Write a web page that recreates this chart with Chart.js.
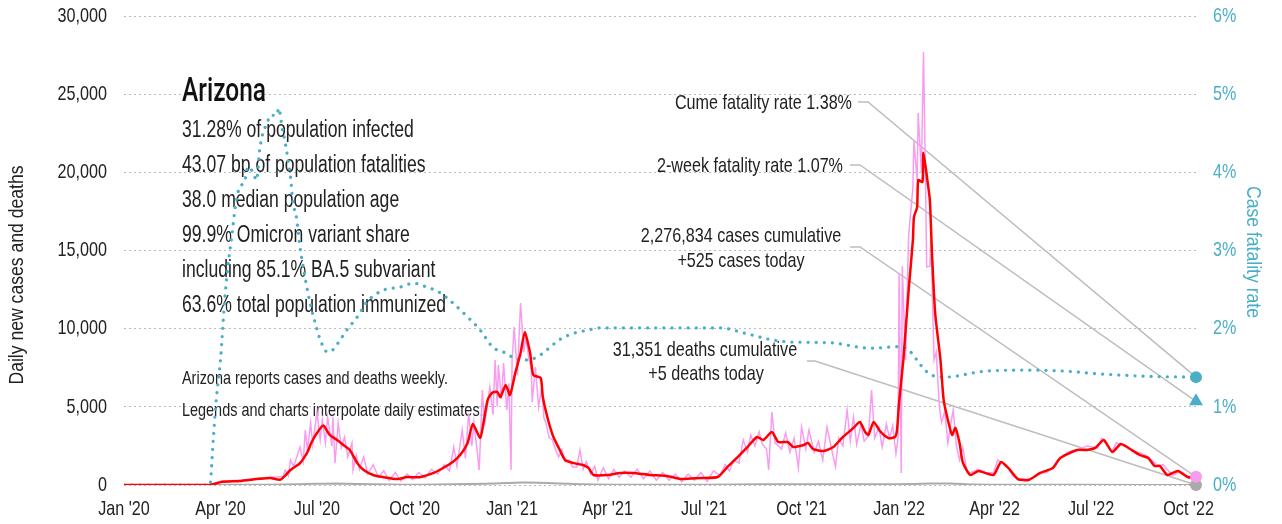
<!DOCTYPE html>
<html>
<head>
<meta charset="utf-8">
<script src="https://cdn.jsdelivr.net/npm/chart.js@4"></script>
<style>
  body { margin: 0; background: #fff; }
  #wrap { width: 1282px; height: 524px; }
</style>
</head>
<body>
<div id="wrap"><canvas id="chart" width="1282" height="524"></canvas></div>
<script>
// days counted from 1 Jan 2020
const tickDays = [0, 91, 182, 274, 366, 456, 547, 639, 731, 821, 912, 1004];
const tickLabels = ["Jan '20", "Apr '20", "Jul '20", "Oct '20", "Jan '21", "Apr '21",
  "Jul '21", "Oct '21", "Jan '22", "Apr '22", "Jul '22", "Oct '22"];
const caseTicks = [0, 5000, 10000, 15000, 20000, 25000, 30000];
const rateTicks = [0, 1, 2, 3, 4, 5, 6];

// 7-day average of new cases (red)
const avgDays = [0, 81, 92, 109, 128, 138, 147, 152, 157, 166, 173, 177, 182, 188, 194, 201, 207, 213, 220, 226,
  235, 244, 258, 267, 279, 292, 301, 310, 317, 324, 329, 336, 339, 343, 347, 352, 355, 360, 364, 369,
  374, 378, 383, 386, 393, 395, 400, 405, 411, 416, 424, 433, 438, 443, 456, 468, 480, 496, 512, 525,
  544, 560, 569, 578, 588, 597, 603, 611, 617, 626, 631, 641, 645, 650, 660, 669, 678, 688, 694, 699,
  702, 707, 713, 721, 727, 729, 731, 735, 740, 744, 745, 748, 749, 753, 754, 758, 760, 762, 765, 770,
  773, 777, 781, 784, 788, 791, 798, 806, 820, 827, 834, 843, 853, 864, 876, 883, 899, 908, 916, 924,
  932, 940, 946, 958, 966, 972, 977, 984, 994, 1003, 1011];
const avgCases = [0, 0, 200, 260, 400, 450, 330, 600, 960, 1400, 2110, 2750, 3330, 3800, 3200, 2880, 2560, 2240, 1400, 960,
  640, 510, 380, 510, 500, 770, 1090, 1470, 1920, 2690, 3900, 3000, 3970, 5440, 5890, 5950, 5630, 6400, 5760, 7160,
  8440, 9790, 8440, 7040, 6840, 5630, 4160, 3070, 2240, 1600, 1400, 1280, 1090, 640, 640, 770, 770, 640, 580, 380,
  450, 510, 1150, 1730, 2430, 3070, 2880, 3390, 2750, 2750, 2430, 2560, 2690, 2300, 2180, 2430, 3070, 3650, 4030, 3390,
  3200, 4030, 3450, 3000, 3070, 3500, 5300, 8000, 12470, 15670, 17140, 17780, 19500, 19380, 21240, 19320, 18230, 14840, 11000, 8000,
  5440, 4160, 3200, 3650, 2690, 1470, 640, 900, 640, 1470, 1090, 380, 320, 770, 1090, 1730, 2240, 2240, 2370, 2880,
  2110, 2620, 2430, 1920, 1730, 1220, 1220, 640, 900, 510, 450];

// daily new cases, interpolated from weekly reports (pink)
const rawDays = [0, 81, 92, 110, 128, 140, 150, 152, 155, 157, 160, 166, 169, 171, 173, 176, 178, 182, 185, 187,
  190, 192, 196, 197, 199, 202, 205, 208, 211, 215, 216, 219, 222, 226, 230, 235, 240, 245, 250, 256,
  261, 267, 272, 278, 284, 290, 296, 302, 307, 311, 314, 319, 322, 325, 328, 330, 333, 335, 338, 340,
  345, 348, 350, 352, 353, 356, 358, 361, 363, 365, 366, 368, 371, 374, 377, 379, 382, 384, 385, 388,
  391, 394, 396, 398, 401, 404, 407, 410, 413, 416, 420, 423, 427, 430, 433, 436, 440, 444, 447, 452,
  457, 462, 467, 472, 478, 484, 490, 496, 502, 508, 514, 520, 526, 532, 538, 544, 550, 556, 562, 567,
  571, 575, 580, 584, 588, 591, 595, 599, 602, 606, 608, 611, 614, 620, 624, 628, 632, 636, 639, 643,
  646, 651, 655, 659, 663, 667, 671, 674, 678, 682, 685, 688, 691, 695, 698, 702, 705, 708, 712, 715,
  719, 722, 725, 728, 730, 731, 733, 734, 737, 740, 744, 745, 748, 749, 752, 754, 756, 757, 760, 761,
  764, 766, 769, 771, 774, 777, 780, 782, 785, 788, 791, 795, 798, 806, 812, 820, 824, 830, 834, 838,
  843, 855, 864, 870, 877, 883, 890, 902, 908, 918, 922, 928, 932, 936, 946, 950, 959, 966, 975, 980,
  989, 995, 1001, 1011];
const rawCases = [0, 0, 250, 300, 450, 500, 550, 960, 600, 1600, 1200, 2430, 1500, 3520, 2200, 3970, 2600, 4670, 2900, 4160,
  2700, 4350, 2500, 4350, 1400, 3970, 2400, 3070, 1800, 2690, 960, 1900, 1000, 1800, 700, 1300, 500, 900, 300, 800,
  250, 700, 350, 800, 450, 1000, 700, 1300, 900, 2430, 1200, 3520, 1700, 4600, 2500, 4000, 2200, 960, 6080, 3800,
  6270, 4500, 8000, 5000, 7680, 5500, 7800, 4800, 6500, 960, 8000, 10110, 7000, 11640, 8500, 9500, 8000, 7550, 5300, 7550,
  5000, 6270, 4300, 3970, 3000, 2900, 2240, 1800, 2240, 1500, 1600, 1150, 1150, 2240, 1000, 1500, 700, 1200, 300, 1100,
  400, 1000, 500, 900, 500, 1000, 400, 900, 300, 800, 300, 700, 200, 700, 300, 800, 250, 900, 600, 1300,
  900, 1600, 1400, 2880, 2100, 3200, 2500, 3400, 2600, 2300, 960, 4670, 2700, 2300, 3330, 2100, 3000, 1090, 3710, 2300,
  3520, 2100, 2800, 1600, 3710, 2400, 1150, 3000, 2500, 4800, 2800, 4350, 2600, 3900, 2800, 3100, 6080, 3000, 3700, 2430,
  3900, 3000, 3800, 2000, 3000, 13560, 770, 14000, 8000, 16000, 19000, 22000, 19500, 23800, 20000, 27700, 19000, 13950, 14000, 15700,
  8000, 8500, 5000, 4000, 4700, 2700, 4000, 4800, 2500, 1600, 2400, 900, 770, 1000, 800, 770, 1600, 1300, 1090, 600,
  380, 380, 770, 800, 1200, 1730, 2100, 2300, 2500, 2370, 3000, 2500, 2180, 2700, 2430, 2200, 2050, 1790, 1220, 1300,
  600, 830, 580, 525];

// daily new deaths (gray)
const deathDays = [0, 81, 95, 120, 150, 180, 200, 220, 250, 280, 310, 340, 360, 375, 390, 410, 430, 460, 500, 550,
  600, 650, 700, 730, 760, 780, 800, 830, 900, 1011];
const deaths = [0, 0, 15, 20, 30, 80, 90, 60, 25, 20, 40, 80, 120, 160, 150, 100, 50, 20, 10, 15,
  40, 50, 50, 40, 90, 100, 40, 10, 10, 5];

// cumulative case fatality rate, % (teal, right axis)
const cfrDays = [0, 81, 84, 87, 91, 95, 98, 102, 105, 108, 114, 117, 122, 125, 128, 131, 135, 138, 144, 146,
  149, 152, 157, 159, 163, 166, 169, 173, 177, 180, 185, 192, 197, 204, 210, 220, 229, 244, 260, 273,
  286, 298, 310, 324, 336, 348, 358, 369, 380, 390, 399, 411, 424, 437, 449, 562, 586, 610, 628, 666,
  704, 732, 742, 751, 761, 775, 808, 845, 883, 921, 968, 1011];
const cfrRates = [0, 0, 0.54, 1.09, 1.60, 2.37, 2.79, 3.22, 3.56, 3.77, 3.90, 4.07, 3.99, 3.90, 4.29, 4.50, 4.63, 4.73, 4.73, 4.82,
  4.58, 4.38, 3.94, 3.65, 3.39, 3.04, 2.79, 2.49, 2.24, 2.09, 1.86, 1.70, 1.73, 1.86, 1.98, 2.15, 2.34, 2.49, 2.53, 2.58,
  2.53, 2.46, 2.33, 2.15, 1.98, 1.76, 1.70, 1.62, 1.60, 1.64, 1.73, 1.86, 1.94, 1.98, 2.01, 2.01, 1.94, 1.86, 1.83, 1.82,
  1.75, 1.77, 1.70, 1.54, 1.41, 1.38, 1.45, 1.47, 1.46, 1.42, 1.39, 1.38];

const twoWeekRate = 1.07;
const casesCumulative = "2,276,834";
const deathsCumulative = "31,351";

const statLines = [
  "31.28% of population infected",
  "43.07 bp of population fatalities",
  "38.0 median population age",
  "99.9% Omicron variant share",
  "including 85.1% BA.5 subvariant",
  "63.6% total population immunized"
];
const noteLines = [
  "Arizona reports cases and deaths weekly.",
  "Legends and charts interpolate daily estimates."
];

const FONT = "'Liberation Sans', Arial, sans-serif";
const TEAL = "#4aaec8";
const PINK = "#f99cf0";
const GRAY = "#aaaaaa";
const INK = "#222222";

const pts = (xs, ys) => xs.map((d, i) => ({ x: d, y: ys[i] }));
const lastDay = avgDays[avgDays.length - 1];
const casesToday = rawCases[rawCases.length - 1];
const deathsToday = deaths[deaths.length - 1];
const cumeRate = cfrRates[cfrRates.length - 1];

// condensed text: squeeze a normal face horizontally
function label(ctx, text, x, y, opt) {
  ctx.save();
  ctx.font = (opt.weight || "normal") + " " + opt.size + "px " + (opt.family || FONT);
  ctx.fillStyle = opt.color || INK;
  ctx.textAlign = opt.align || "left";
  ctx.textBaseline = "middle";
  ctx.translate(x, y);
  if (opt.rotate) ctx.rotate(opt.rotate);
  ctx.scale(opt.sx || 0.77, 1);
  ctx.fillText(text, 0, 0);
  ctx.restore();
}

const notesPlugin = {
  id: "notes",
  beforeDatasetsDraw(chart) {
    const ctx = chart.ctx;
    const xs = chart.scales.x, ys = chart.scales.y, y2 = chart.scales.y2;

    // axes labels
    tickDays.forEach((d, i) => label(ctx, tickLabels[i], xs.getPixelForValue(d), 509, { size: 21, align: "center" }));
    caseTicks.forEach(v => label(ctx, v.toLocaleString("en-US"), 107, ys.getPixelForValue(v), { size: 21, align: "right" }));
    rateTicks.forEach(v => label(ctx, v + "%", 1213, y2.getPixelForValue(v), { size: 21, color: TEAL }));
    label(ctx, "Daily new cases and deaths", 17, 275, { size: 20, align: "center", rotate: -Math.PI / 2, sx: 0.88 });
    label(ctx, "Case fatality rate", 1253, 252, { size: 20, align: "center", rotate: Math.PI / 2, sx: 0.88, color: TEAL });

    // state block
    label(ctx, "Arizona", 182, 92, { size: 34, sx: 0.72, weight: "500", family: "Roboto, " + FONT, color: "#111" });
    statLines.forEach((t, i) => label(ctx, t, 182, 131 + i * 35, { size: 23, sx: 0.765 }));
    noteLines.forEach((t, i) => label(ctx, t, 182, 379 + i * 32, { size: 18.5, sx: 0.78 }));

    // callouts
    label(ctx, "Cume fatality rate " + cumeRate.toFixed(2) + "%", 852, 103, { size: 21, align: "right" });
    label(ctx, "2-week fatality rate " + twoWeekRate.toFixed(2) + "%", 843, 166, { size: 21, align: "right" });
    label(ctx, casesCumulative + " cases cumulative", 741, 236, { size: 21, align: "center" });
    label(ctx, "+" + casesToday + " cases today", 741, 261, { size: 21, align: "center" });
    label(ctx, deathsCumulative + " deaths cumulative", 705, 350, { size: 21, align: "center" });
    label(ctx, "+" + deathsToday + " deaths today", 706, 374, { size: 21, align: "center" });

    const ex = xs.getPixelForValue(lastDay);
    const leaders = [
      [858, 868, 102, y2.getPixelForValue(cumeRate)],
      [850, 860, 165, y2.getPixelForValue(twoWeekRate)],
      [850, 860, 247, ys.getPixelForValue(casesToday)],
      [807, 815, 361, ys.getPixelForValue(deathsToday)]
    ];
    ctx.save();
    ctx.strokeStyle = "#bdbdbd";
    ctx.lineWidth = 1.5;
    leaders.forEach(([x0, x1, y0, ey]) => {
      ctx.beginPath();
      ctx.moveTo(x0, y0);
      ctx.lineTo(x1, y0);
      ctx.lineTo(ex, ey);
      ctx.stroke();
    });
    ctx.restore();
  }
};

new Chart(document.getElementById("chart"), {
  type: "line",
  data: {
    datasets: [
      { data: [{ x: lastDay, y: cumeRate }], yAxisID: "y2", pointRadius: 6, pointBackgroundColor: TEAL,
        pointBorderWidth: 0, showLine: false, order: 0, clip: false },
      { data: [{ x: lastDay, y: twoWeekRate }], yAxisID: "y2", pointStyle: "triangle", pointRadius: 8,
        pointBackgroundColor: TEAL, pointBorderWidth: 0, showLine: false, order: 0, clip: false },
      { data: [{ x: lastDay, y: casesToday }], yAxisID: "y", pointRadius: 6, pointBackgroundColor: PINK,
        pointBorderWidth: 0, showLine: false, order: 0, clip: false },
      { data: [{ x: lastDay, y: deathsToday }], yAxisID: "y", pointRadius: 6, pointBackgroundColor: GRAY,
        pointBorderWidth: 0, showLine: false, order: 0, clip: false },
      { label: "7-day average", data: pts(avgDays, avgCases), yAxisID: "y", borderColor: "#ff0000",
        borderWidth: 2.5, pointRadius: 0, tension: 0.2, order: 1 },
      { label: "Case fatality rate", data: pts(cfrDays, cfrRates), yAxisID: "y2", borderColor: TEAL,
        borderWidth: 3.2, borderDash: [0.1, 8], borderCapStyle: "round", pointRadius: 0,
        cubicInterpolationMode: "monotone", order: 2 },
      { label: "Daily cases", data: pts(rawDays, rawCases), yAxisID: "y", borderColor: PINK,
        borderWidth: 1.5, pointRadius: 0, tension: 0, order: 3 },
      { label: "Daily deaths", data: pts(deathDays, deaths), yAxisID: "y", borderColor: GRAY,
        borderWidth: 2, pointRadius: 0, tension: 0.2, order: 4 }
    ]
  },
  options: {
    responsive: false,
    animation: false,
    devicePixelRatio: 1,
    layout: { padding: { top: 16, left: 0, right: 0, bottom: 0 } },
    plugins: { legend: { display: false }, tooltip: { enabled: false } },
    scales: {
      x: {
        type: "linear", min: 0, max: lastDay,
        grid: { display: false, drawTicks: false },
        border: { display: false },
        ticks: { display: false },
        afterFit: (s) => { s.height = 39; }
      },
      y: {
        position: "left", min: 0, max: 30000,
        afterFit: (s) => { s.width = 124; },
        grid: { color: "#bbbbbb", drawTicks: false, lineWidth: 1 },
        border: { display: false, dash: [2, 3] },
        ticks: { display: false, stepSize: 5000 }
      },
      y2: {
        position: "right", min: 0, max: 6,
        afterFit: (s) => { s.width = 86; },
        grid: { drawOnChartArea: false, drawTicks: false },
        border: { display: false },
        ticks: { display: false, stepSize: 1 }
      }
    }
  },
  plugins: [notesPlugin]
});
</script>
</body>
</html>
